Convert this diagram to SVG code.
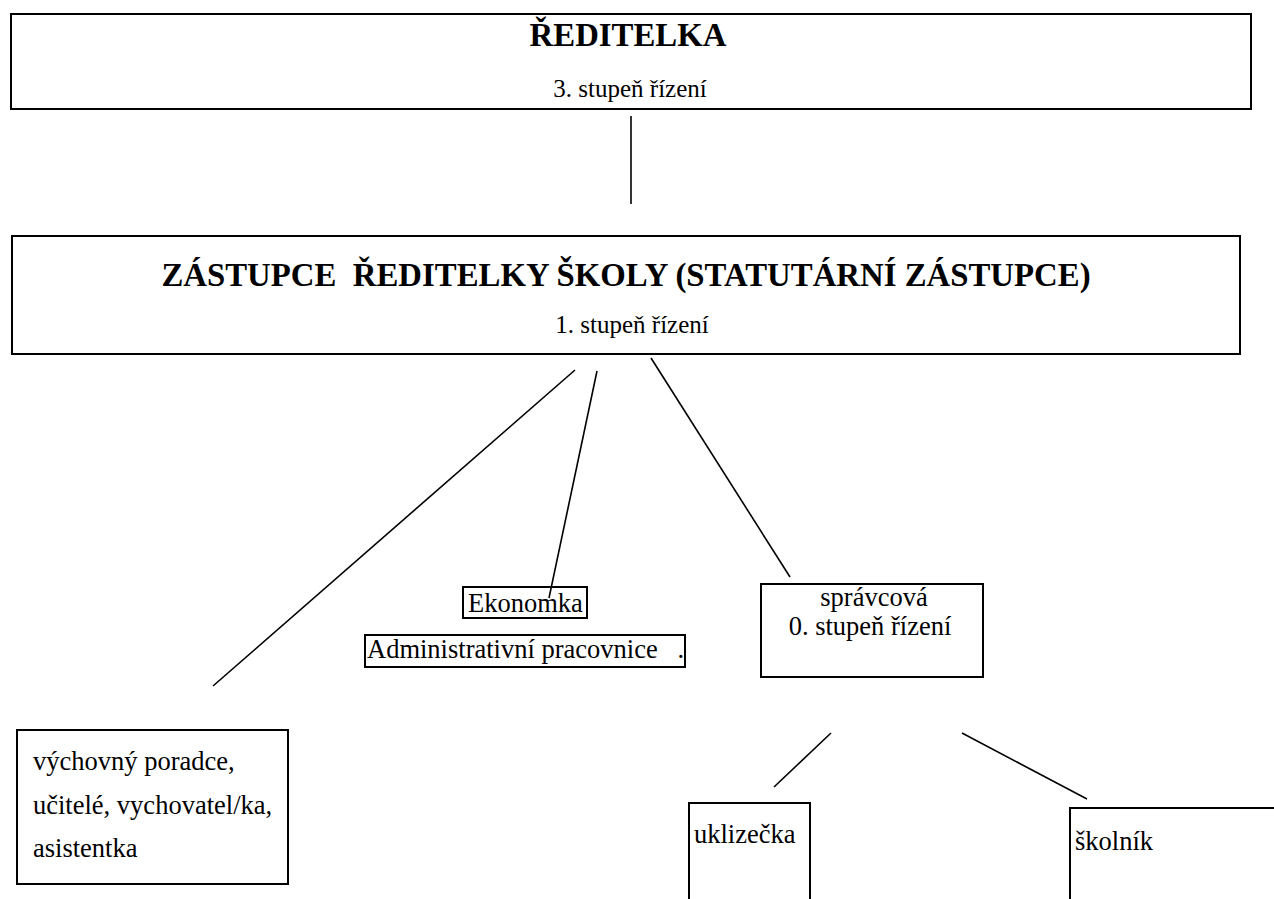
<svg xmlns="http://www.w3.org/2000/svg" width="1274" height="899" viewBox="0 0 1274 899">
<style>
.box{fill:#fff;stroke:#000;stroke-width:2}
.t{font-family:"Liberation Serif","Times New Roman",Times,serif;font-size:26.5px;fill:#000}
.s{font-size:25px}
.b{font-family:"Liberation Serif","Times New Roman",Times,serif;font-size:32.8px;font-weight:bold;fill:#000}
.c{text-anchor:middle}
.ln{stroke:#000;stroke-width:1.6;fill:none}
</style>
<rect width="1274" height="899" fill="#fff"/>
<g id="reditelka">
<rect class="box" x="11" y="14" width="1240" height="95"/>
<text class="b c" x="628" y="46">ŘEDITELKA</text>
<text class="t s c" x="630" y="97">3. stupeň řízení</text>
</g>
<g id="zastupce">
<rect class="box" x="12" y="236" width="1228" height="118"/>
<text class="b c" x="626" y="286" xml:space="preserve">ZÁSTUPCE  ŘEDITELKY ŠKOLY (STATUTÁRNÍ ZÁSTUPCE)</text>
<text class="t s c" x="632" y="333">1. stupeň řízení</text>
</g>
<g id="vychovny">
<rect class="box" x="17" y="730" width="271" height="154"/>
<text class="t" x="33" y="770">výchovný poradce,</text>
<text class="t" x="33" y="814">učitelé, vychovatel/ka,</text>
<text class="t" x="33" y="857">asistentka</text>
</g>
<g id="ekonomka">
<rect class="box" x="463" y="587" width="124" height="31"/>
<text class="t" x="468" y="612">Ekonomka</text>
</g>
<g id="administrativni">
<rect class="box" x="365" y="635" width="320" height="32"/>
<text class="t" x="367" y="658" xml:space="preserve">Administrativní pracovnice   .</text>
</g>
<g id="spravcova">
<rect class="box" x="761" y="584" width="222" height="93"/>
<text class="t c" x="874" y="606">správcová</text>
<text class="t c" x="870" y="635">0. stupeň řízení</text>
</g>
<g id="uklizecka">
<path class="box" d="M689,900 V803 H810 V900"/>
<text class="t" x="694" y="843">uklizečka</text>
</g>
<g id="skolnik">
<path class="box" d="M1070,900 V808 H1276"/>
<text class="t" x="1075" y="850">školník</text>
</g>
<g id="connectors">
<line class="ln" x1="631" y1="116" x2="631" y2="204"/>
<line class="ln" x1="575" y1="370" x2="213" y2="686"/>
<line class="ln" x1="597" y1="371" x2="549" y2="598"/>
<line class="ln" x1="651" y1="358" x2="790" y2="577"/>
<line class="ln" x1="831" y1="733" x2="774" y2="787"/>
<line class="ln" x1="962" y1="733" x2="1087" y2="799"/>
</g>
</svg>
